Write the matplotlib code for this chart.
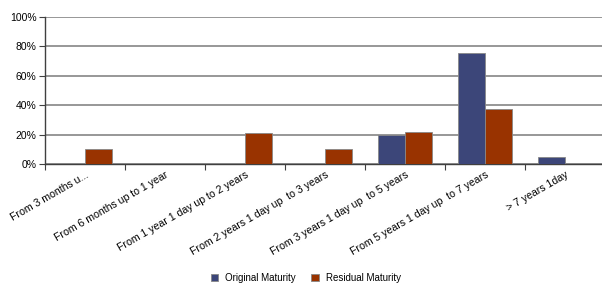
import matplotlib.pyplot as plt
import numpy as np
from matplotlib.ticker import FuncFormatter, FixedLocator

plt.rcParams['font.family'] = ['Liberation Sans', 'DejaVu Sans']

# Maturity buckets and shares (%)
categories = ['From 3 months u...', 'From 6 months up to 1 year',
              'From 1 year 1 day up to 2 years', 'From 2 years 1 day up  to 3 years',
              'From 3 years 1 day up  to 5 years', 'From 5 years 1 day up  to 7 years',
              '> 7 years 1day']
original = [0, 0, 0, 0, 20, 75.5, 4.5]
residual = [10.2, 0, 21, 10, 21.7, 37.3, 0]

col_orig = '#3c4679'
col_resid = '#993300'

fig = plt.figure(figsize=(6.02, 2.86), dpi=100)
ax = fig.add_axes([45 / 602, 1 - 164 / 286, 560 / 602, 147 / 286])

x = np.arange(len(categories))
w = 0.34
ax.bar(x - w / 2, original, w, color=col_orig, edgecolor='#888888', linewidth=0.6,
       label='Original Maturity', zorder=3)
ax.bar(x + w / 2, residual, w, color=col_resid, edgecolor='#888888', linewidth=0.6,
       label='Residual Maturity', zorder=3)

ax.set_xlim(-0.5, len(categories) - 0.5)
ax.set_ylim(0, 100)
ax.set_yticks(np.arange(0, 101, 20))
ax.yaxis.set_major_formatter(FuncFormatter(lambda v, p: f'{v:.0f}%'))
ax.yaxis.grid(True, color='#7a7a7a', linewidth=1.1, zorder=0)

ax.set_xticks(x)
ax.set_xticklabels(categories, rotation=30, ha='right', rotation_mode='anchor', fontsize=7.6)
ax.tick_params(axis='x', which='major', length=0, pad=4)
ax.xaxis.set_minor_locator(FixedLocator(np.arange(-0.5, len(categories), 1)))
ax.tick_params(axis='x', which='minor', length=4, color='#404040', width=0.8)
ax.tick_params(axis='y', labelsize=7.5, length=4, color='#404040', width=0.8, pad=2)

for s in ['top', 'right']:
    ax.spines[s].set_visible(False)
for s in ['left', 'bottom']:
    ax.spines[s].set_color('#404040')
    ax.spines[s].set_linewidth(1.0)

fig.legend(loc='center', bbox_to_anchor=(0.508, 1 - 278 / 286), ncol=2, frameon=False,
           fontsize=7, handlelength=0.75, handleheight=0.75, handletextpad=0.7,
           columnspacing=1.6)

fig.savefig('out.png', dpi=100)
